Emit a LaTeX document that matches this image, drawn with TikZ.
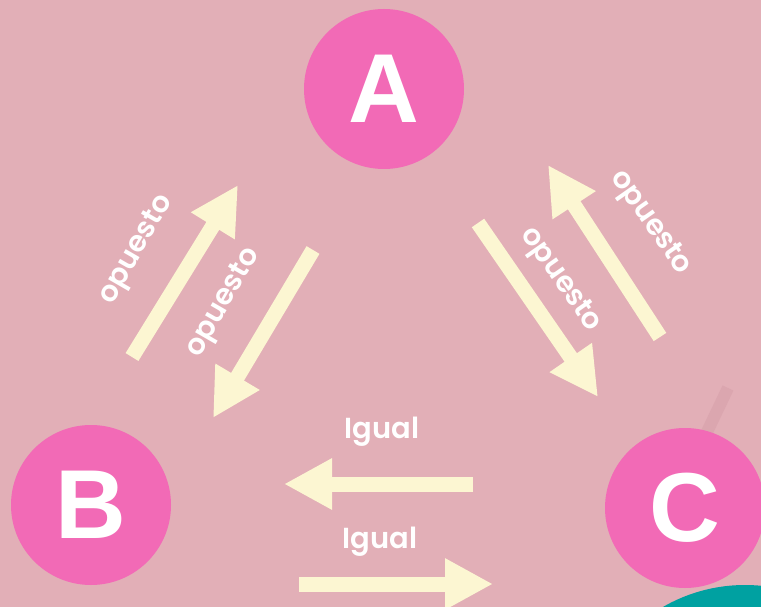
\documentclass[tikz,border=0pt]{standalone}
\usepackage{fontspec}
\usetikzlibrary{arrows.meta}
\newfontfamily\lettfont{Liberation Sans}
\newfontfamily\lblfont{Poppins SemiBold}
\definecolor{bgpink}{HTML}{E2AFB7}
\definecolor{circpink}{HTML}{F26AB6}
\definecolor{cream}{HTML}{FCF6D2}
\definecolor{tealc}{HTML}{00A1A1}
\definecolor{faintbar}{HTML}{DBA6AF}
\tikzset{
  circ/.style={circle, fill=circpink, minimum size=160pt, inner sep=0pt, text=white,
    font=\lettfont\bfseries\fontsize{98}{98}\selectfont},
  bigarrow/.style={draw=cream, line width=15pt,
    -{Triangle[length=48pt,width=48pt,fill=cream]}},
  lbl/.style={text=white, font=\lblfont\fontsize{29}{29}\selectfont, inner sep=0pt}
}
\begin{document}
\begin{tikzpicture}[x=1pt,y=-1pt]
\useasboundingbox (0,0) rectangle (761,607);
\fill[bgpink] (0,0) rectangle (761,607);
\draw[faintbar, line width=12pt] (728,388) -- (696,455);
\fill[tealc] (745,749) circle[radius=164pt];
\node[circ] (A) at (384,89) {A};
\node[circ] (B) at (91,505) {B};
\node[circ] (C) at (685,508) {C};
% arrow end points
\coordinate (ba1) at (132,357);
\coordinate (ba2) at (238,185);
\coordinate (ab1) at (313,250);
\coordinate (ab2) at (213,418);
\coordinate (ac1) at (478,223);
\coordinate (ac2) at (598,397);
\coordinate (ca1) at (660,337);
\coordinate (ca2) at (548,165);
\coordinate (cb1) at (473,484);
\coordinate (cb2) at (284,484);
\coordinate (bc1) at (299,584);
\coordinate (bc2) at (493,584);
\draw[bigarrow] (ba1) -- (ba2);
\draw[bigarrow] (ab1) -- (ab2);
\draw[bigarrow] (ac1) -- (ac2);
\draw[bigarrow] (ca1) -- (ca2);
\draw[bigarrow] (cb1) -- (cb2);
\draw[bigarrow] (bc1) -- (bc2);
% labels
\node[lbl, rotate=60] (l1) at (137,250) {opuesto};
\node[lbl, rotate=60] (l2) at (224,303) {opuesto};
\node[lbl, rotate=-55] (l3) at (560,280) {opuesto};
\node[lbl, rotate=-55] (l4) at (650,223) {opuesto};
\node[lbl] (l5) at (382,432) {Igual};
\node[lbl] (l6) at (380,542) {Igual};
\end{tikzpicture}
\end{document}
